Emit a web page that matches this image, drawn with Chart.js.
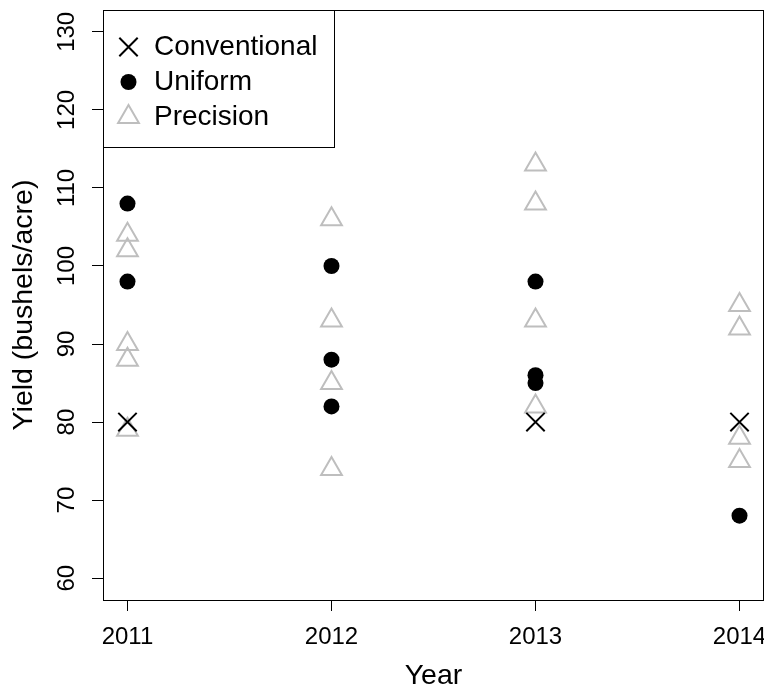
<!DOCTYPE html>
<html>
<head>
<meta charset="utf-8">
<title>Yield by year</title>
<script src="https://cdn.jsdelivr.net/npm/chart.js@4.4.1/dist/chart.umd.min.js"></script>
<style>
  html, body { margin: 0; padding: 0; background: #fff; }
  canvas { display: block; }
</style>
</head>
<body>
<canvas id="yield-chart" width="764" height="689"></canvas>
<script>
const FONT = "'Liberation Sans', Arial, sans-serif";
const GRAY = '#bebebe';

const years = [2011, 2012, 2013, 2014];
const yTicks = [60, 70, 80, 90, 100, 110, 120, 130];

// yields per year, one inner list per entry in `years`
const conventionalYield = [[80], [], [80], [80]];
const uniformYield      = [[108, 98], [100, 88, 82], [98, 86, 85], [68]];
const precisionYield    = [[104, 102, 90, 88, 79], [106, 93, 85, 74], [113, 108, 93, 82], [95, 92, 78, 75]];

function toPoints(perYear) {
    const pts = [];
    perYear.forEach((vals, i) => vals.forEach(v => pts.push({ x: years[i], y: v })));
    return pts;
}

// R-style: box round the plot area
const plotBox = {
    id: 'plotBox',
    afterDraw(chart) {
        const { ctx, chartArea: a } = chart;
        ctx.save();
        ctx.strokeStyle = '#000';
        ctx.lineWidth = 1;
        ctx.strokeRect(Math.round(a.left) + 0.5, Math.round(a.top) + 0.5,
                       Math.round(a.right - a.left) - 1, Math.round(a.bottom - a.top));
        ctx.restore();
    },
};

// boxed legend in the top-left corner of the plot
const legendBox = {
    id: 'legendBox',
    afterDraw(chart) {
        const { ctx, chartArea: a } = chart;
        const boxW = 231, boxH = 137;
        const rows = [47, 82, 117];
        ctx.save();
        ctx.fillStyle = '#fff';
        ctx.strokeStyle = '#000';
        ctx.lineWidth = 1;
        ctx.fillRect(a.left + 0.5, a.top + 0.5, boxW, boxH);
        ctx.strokeRect(a.left + 0.5, a.top + 0.5, boxW, boxH);

        chart.data.datasets.forEach((ds, i) => {
            ctx.fillStyle = ds.pointBackgroundColor;
            ctx.strokeStyle = ds.pointBorderColor;
            ctx.lineWidth = ds.pointBorderWidth;
            Chart.helpers.drawPoint(ctx, {
                pointStyle: ds.pointStyle,
                radius: ds.pointRadius,
                rotation: 0,
                borderWidth: ds.pointBorderWidth,
            }, 128.5, rows[i]);

            ctx.fillStyle = '#000';
            ctx.font = `28px ${FONT}`;
            ctx.textAlign = 'left';
            ctx.textBaseline = 'middle';
            ctx.fillText(ds.label, 154, rows[i]);
        });
        ctx.restore();
    },
};

new Chart(document.getElementById('yield-chart'), {
    type: 'scatter',
    data: {
        datasets: [
            {
                label: 'Conventional',
                data: toPoints(conventionalYield),
                pointStyle: 'crossRot',
                pointRadius: 13,
                pointBorderWidth: 2,
                pointBorderColor: '#000',
                pointBackgroundColor: 'rgba(0,0,0,0)',
            },
            {
                label: 'Uniform',
                data: toPoints(uniformYield),
                pointStyle: 'circle',
                pointRadius: 8,
                pointBorderWidth: 0,
                pointBorderColor: '#000',
                pointBackgroundColor: '#000',
            },
            {
                label: 'Precision',
                data: toPoints(precisionYield),
                pointStyle: 'triangle',
                pointRadius: 12,
                pointBorderWidth: 2,
                pointBorderColor: GRAY,
                pointBackgroundColor: 'rgba(0,0,0,0)',
            },
        ],
    },
    options: {
        responsive: false,
        animation: false,
        events: [],
        layout: { autoPadding: false, padding: { top: 10, right: 0, bottom: 0, left: 0 } },
        plugins: {
            legend: { display: false },
            tooltip: { enabled: false },
        },
        scales: {
            x: {
                type: 'linear',
                min: 2011 - 0.12,
                max: 2014 + 0.12,
                afterBuildTicks: s => { s.ticks = years.map(v => ({ value: v })); },
                afterFit: s => {
                    s.height = 89;
                    s.paddingLeft = 0;
                    s.paddingRight = 0;
                },
                grid: { drawOnChartArea: false, drawTicks: true, tickLength: 11, color: '#000' },
                border: { display: false },
                ticks: {
                    color: '#000',
                    font: { family: FONT, size: 24 },
                    padding: 12,
                    maxRotation: 0,
                    callback: v => String(v),
                },
                title: {
                    display: true,
                    text: 'Year',
                    color: '#000',
                    font: { family: FONT, size: 28.5, lineHeight: 1 },
                    padding: { top: 0, bottom: -1 },
                },
            },
            y: {
                type: 'linear',
                min: 60 - 2.8,
                max: 130 + 2.8,
                afterBuildTicks: s => { s.ticks = yTicks.map(v => ({ value: v })); },
                afterFit: s => {
                    s.width = 103;
                    s.paddingTop = 0;
                    s.paddingBottom = 0;
                },
                grid: { drawOnChartArea: false, drawTicks: true, tickLength: 11, color: '#000' },
                border: { display: false },
                ticks: {
                    color: '#000',
                    font: { family: FONT, size: 24 },
                    minRotation: 90,
                    maxRotation: 90,
                    crossAlign: 'center',
                    padding: 5,
                },
                title: {
                    display: true,
                    text: 'Yield (bushels/acre)',
                    color: '#000',
                    font: { family: FONT, size: 28.5, lineHeight: 1 },
                    padding: { top: 10, bottom: 0 },
                },
            },
        },
    },
    plugins: [plotBox, legendBox],
});
</script>
</body>
</html>
